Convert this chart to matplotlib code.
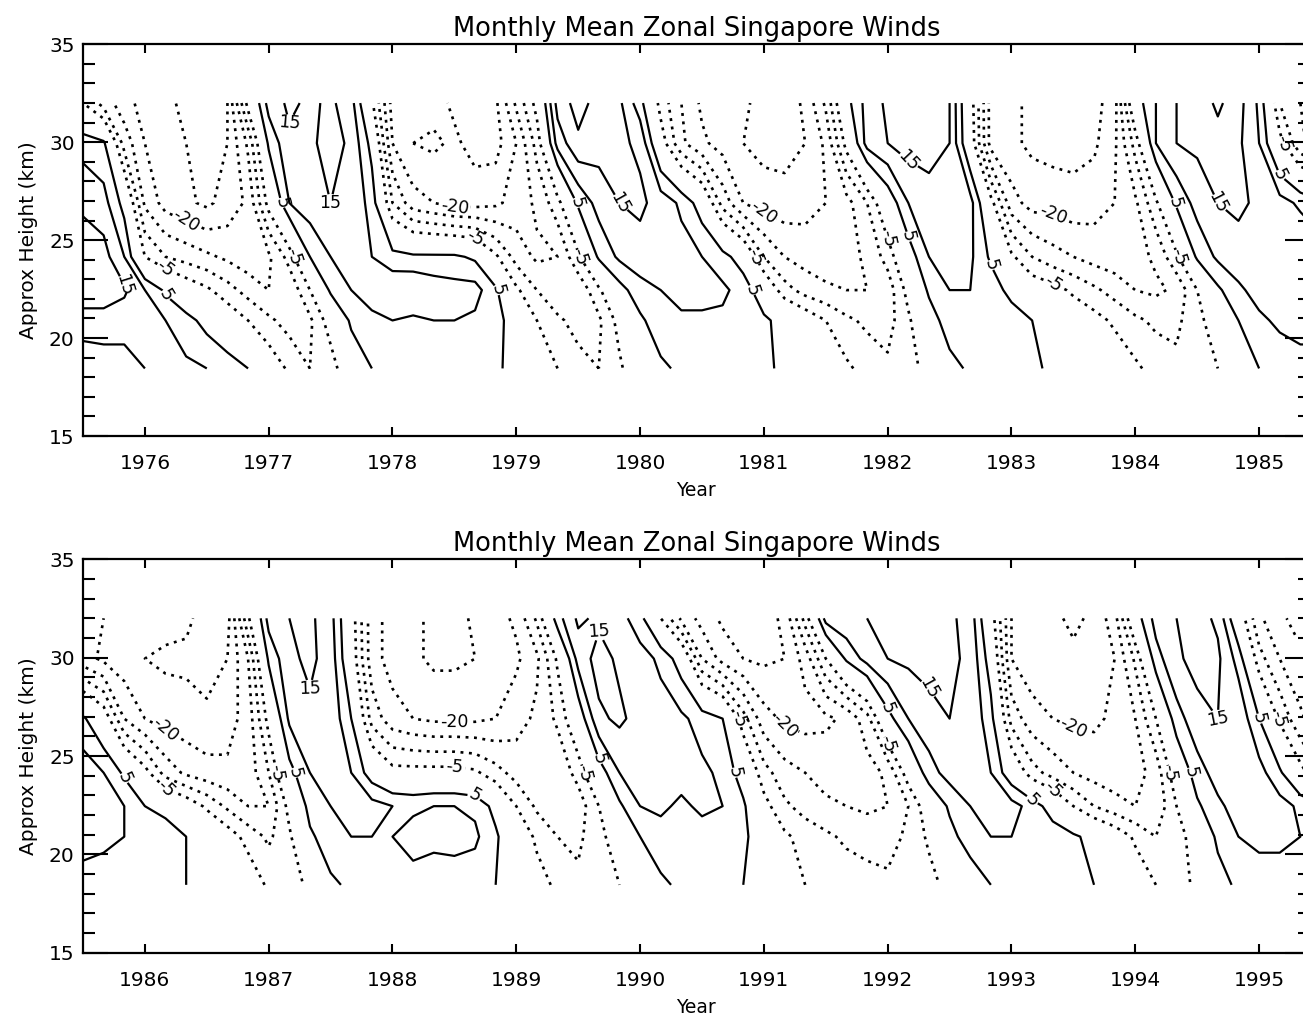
import numpy as np
import matplotlib
matplotlib.use("Agg")
import matplotlib.pyplot as plt
from matplotlib.ticker import MultipleLocator

# Monthly-mean zonal wind (m/s) over Singapore, sampled every two months
# starting July 1975, at approximate heights (km) of the sounding levels.
heights_km = [18.45, 20.9, 22.45, 24.15, 26.9, 29.95, 32.0]
first_sample = 1975.5
sample_step = 1.0 / 6.0

wind_18km = [6, 7, 8, 10, 11, 11, 10, 8, 5, -1,
             -6, -10, -8, 1, 5, 7, 8, 7, 8, 7,
             6, 3, -1, -5, -8, -10, -6, 0, 4, 6,
             7, 7, 6, 6, 4, 2, -1, -4, -7, -9,
             -8, -2, 3, 6, 7, 7, 6, 4, 2, 1,
             -1, -4, -7, -9, -9, -5, 0, 5, 7, 8,
             8, 8, 7, 7, 6, 5, 4, 2, -1, -6,
             -9, -3, 4, 6, 7, 7, 8, 8, 7, 7,
             5, 1, -3, -6, -9, -9, -5, 0, 4, 6,
             7, 6, 5, 2, -2, -5, -6, -7, -8, -9,
             -9, -7, -3, 1, 5, 7, 7, 7, 6, 5,
             2, -1, -5, -7, -4, 3, 6, 8, 8, 8,
             7]
wind_21km = [13, 13, 12, 12, 10, 7, 3, -1, -5, -9,
             -12, -11, -2, 6, 9, 10, 9, 10, 10, 9,
             7, 2, -5, -9, -12, -11, -3, 4, 8, 9,
             9, 9, 8, 6, 3, -1, -5, -9, -11, -12,
             -6, 2, 8, 9, 9, 8, 5, 3, -1, -3,
             -6, -9, -11, -11, -7, -1, 5, 9, 11, 12,
             12, 11, 10, 9, 8, 5, 2, -2, -7, -11,
             -6, 4, 8, 10, 10, 10, 12, 11, 12, 11,
             6, -1, -6, -10, -11, -7, -1, 5, 8, 9,
             8, 8, 6, 2, -4, -7, -9, -11, -12, -12,
             -9, -4, 3, 8, 10, 10, 9, 8, 6, 3,
             -1, -6, -10, -9, 0, 6, 10, 11, 11, 10,
             9]
wind_22km = [18, 18, 16, 10, 4, -1, -4, -8, -12, -15,
             -14, -5, 6, 10, 12, 14, 15, 13, 12, 12,
             6, -4, -10, -14, -14, -6, 3, 8, 10, 12,
             12, 11, 8, 1, -8, -12, -14, -15, -15, -13,
             -3, 6, 10, 10, 8, 3, -1, -3, -6, -9,
             -12, -15, -16, -14, -5, 4, 9, 12, 14, 15,
             15, 15, 10, 5, 3, -1, -6, -11, -15, -15,
             -3, 7, 10, 12, 12, 10, 9, 10, 10, 9,
             3, -5, -11, -14, -13, -5, 4, 10, 11, 9,
             11, 10, 6, -3, -9, -12, -14, -15, -16, -15,
             -10, -1, 6, 10, 12, 12, 8, 2, -5, -10,
             -13, -15, -14, -5, 4, 9, 12, 13, 12, 9,
             6]
wind_24km = [18, 17, 10, -5, -10, -12, -14, -16, -18, -16,
             -8, 5, 10, 12, 10, 7, 6, 6, 6, 4,
             -4, -12, -16, -15, -6, 6, 11, 13, 13, 12,
             10, 7, 2, -10, -15, -17, -18, -17, -14, -8,
             2, 10, 12, 11, 4, -4, -10, -13, -15, -17,
             -18, -17, -14, -6, 6, 11, 13, 14, 15, 15,
             13, 10, 4, -3, -12, -16, -18, -19, -18, -10,
             3, 10, 12, 10, 2, -3, -3, -3, -3, -4,
             -8, -12, -15, -14, -8, 2, 10, 12, 12, 12,
             11, 9, 2, -8, -13, -15, -17, -18, -17, -14,
             -2, 8, 12, 13, 10, 1, -8, -12, -15, -17,
             -18, -17, -13, -1, 8, 12, 14, 12, 6, -3,
             -10]
wind_27km = [14, 12, 3, -16, -22, -24, -26, -23, -19, -3,
             10, 13, 15, 14, 8, -10, -18, -20, -22, -22,
             -21, -18, -14, -7, 6, 12, 15, 16, 13, 9,
             2, -12, -20, -22, -23, -22, -20, -17, -10, 1,
             10, 13, 15, 12, -3, -18, -22, -22, -23, -22,
             -20, -16, -6, 6, 12, 15, 16, 14, 12, 9,
             6, -1, -15, -20, -22, -23, -24, -22, -18, -3,
             11, 14, 14, 5, -12, -18, -20, -21, -21, -21,
             -20, -17, -14, -9, 1, 14, 16, 13, 12, 11,
             8, 5, -8, -18, -21, -22, -21, -19, -12, 3,
             10, 13, 15, 14, 7, -12, -18, -20, -21, -21,
             -19, -15, -5, 8, 13, 15, 14, 5, -6, -14,
             -19]
wind_30km = [8, 6, -12, -20, -24, -25, -26, -25, -14, 6,
             14, 14, 17, 14, 3, -20, -25, -26, -24, -27,
             -27, -20, -8, 12, 19, 17, 16, 14, -2, -14,
             -19, -22, -25, -27, -27, -25, -19, -3, 12, 15,
             17, 17, 15, -1, -22, -24, -26, -27, -27, -26,
             -21, -8, 10, 15, 16, 18, 16, 10, -3, -14,
             -18, -21, -23, -25, -26, -26, -27, -25, -15, 6,
             14, 16, 13, -1, -18, -22, -24, -26, -26, -25,
             -23, -21, -16, -4, 12, 17, 14, 12, 9, 2,
             -15, -22, -25, -26, -25, -18, -5, 6, 12, 15,
             16, 17, 16, 14, 2, -20, -23, -24, -24, -23,
             -20, -9, 8, 14, 17, 16, 8, -8, -15, -19,
             -21]
wind_32km = [-5, -12, -18, -22, -24, -26, -27, -25, -3, 12,
             16, 14, 16, 12, -4, -22, -24, -23, -26, -28,
             -26, -14, -3, 17, 22, 18, 16, 7, -7, -15,
             -21, -23, -24, -27, -28, -24, -14, 3, 12, 16,
             18, 18, 15, -2, -22, -24, -26, -27, -28, -27,
             -22, 2, 10, 15, 17, 21, 17, 9, -10, -15,
             -17, -20, -22, -23, -23, -24, -27, -27, -6, 12,
             15, 16, 12, -2, -18, -22, -24, -26, -27, -24,
             -22, -19, -9, 8, 16, 14, 12, 7, -5, -16,
             -22, -26, -27, -27, -24, -8, 12, 14, 15, 16,
             17, 17, 16, 13, -2, -20, -23, -24, -26, -24,
             -17, 2, 12, 15, 17, 14, -1, -14, -19, -22,
             -24]

easterly_levels = [-25, -20, -15, -10, -5]
westerly_levels = [5, 10, 15, 20]
labelled_easterly = [-20, -5]
labelled_westerly = [5, 15]

# Decade shown in each panel: (first year, last year)
panel_years = [(1975.5, 1985.408), (1985.5, 1995.408)]

wind = np.array([wind_18km, wind_21km, wind_22km, wind_24km,
                 wind_27km, wind_30km, wind_32km], dtype=float)
times = first_sample + sample_step * np.arange(wind.shape[1])
heights = np.array(heights_km)

plt.rcParams["font.family"] = ["DejaVu Sans"]
plt.rcParams["lines.dotted_pattern"] = [1.1, 2.1]

fig = plt.figure(figsize=(13.03, 10.17), dpi=100)
W, H = 1303.0, 1017.0
axes_px = [(83, 44.3, 1309.6, 436.0), (83, 559.3, 1309.6, 952.7)]


def drop_edge_labels(cs, lo, hi):
    """Remove contour labels that would sit on the panel's left/right edge."""
    for txt in list(cs.labelTexts):
        x = txt.get_position()[0]
        if x < lo or x > hi:
            txt.remove()


for (x0, x1), (l, t, r, b) in zip(panel_years, axes_px):
    ax = fig.add_axes([l / W, 1 - b / H, (r - l) / W, (b - t) / H])
    sel = (times >= x0 - 0.2) & (times <= x1 + 0.2)
    tt = times[sel]
    ww = wind[:, sel]

    cs_e = ax.contour(tt, heights, ww, levels=easterly_levels,
                      colors="black", linewidths=1.9, linestyles="dotted")
    cs_w = ax.contour(tt, heights, ww, levels=westerly_levels,
                      colors="black", linewidths=1.6, linestyles="solid")
    ax.clabel(cs_e, levels=labelled_easterly, fmt="%d", fontsize=12.5,
              inline=True, inline_spacing=2)
    ax.clabel(cs_w, levels=labelled_westerly, fmt="%d", fontsize=12.5,
              inline=True, inline_spacing=2)
    drop_edge_labels(cs_e, x0 + 0.12, x1 - 0.12)
    drop_edge_labels(cs_w, x0 + 0.12, x1 - 0.12)

    ax.set_xlim(x0, x1)
    ax.set_ylim(15, 35)
    ax.xaxis.set_major_locator(MultipleLocator(1))
    ax.yaxis.set_major_locator(MultipleLocator(5))
    ax.yaxis.set_minor_locator(MultipleLocator(1))
    ax.tick_params(which="both", direction="in", top=True, right=True,
                   width=1.5, labelsize=14.5)
    ax.tick_params(axis="y", which="major", length=18, pad=6)
    ax.tick_params(axis="y", which="minor", length=8.5)
    ax.tick_params(axis="x", which="major", length=6.5, pad=13)
    for sp in ax.spines.values():
        sp.set_linewidth(1.6)

    ax.set_title("Monthly Mean Zonal Singapore Winds", fontsize=18.5, pad=6)
    ax.set_xlabel("Year", fontsize=13.5, labelpad=6)
    ax.set_ylabel("Approx Height (km)", fontsize=14.5, labelpad=8)

fig.savefig("out.png", dpi=100)
